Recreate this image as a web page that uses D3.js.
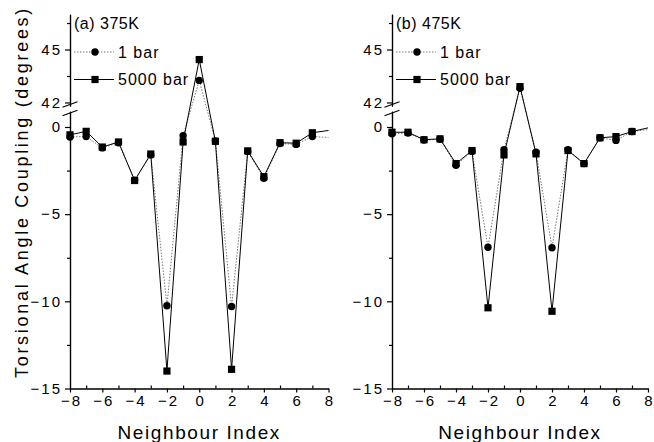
<!DOCTYPE html>
<meta charset="utf-8">
<head>
<script src="https://d3js.org/d3.v7.min.js"></script>
<style>
  body { margin: 0; background: #fff; }
  text { font-family: "Liberation Sans", Arial, sans-serif; fill: #000; }
  .axis path, .axis line { stroke: #000; stroke-width: 1.2px; }
  .axis text { font-size: 15px; letter-spacing: 2px; }
</style>
</head>
<body>
<div id="chart"></div>
<script>
// data
var neighbours = [-8, -7, -6, -5, -4, -3, -2, -1, 0, 1, 2, 3, 4, 5, 6, 7, 8];
var a1bar  = [-0.57, -0.55, -1.2, -0.9, -3.05, -1.6, -10.25, -0.5, 43.25, -0.8, -10.3, -1.4, -2.94, -0.95, -1.0, -0.55, -0.6];
var a5000  = [-0.45, -0.25, -1.15, -0.86, -3.07, -1.55, -14.0, -0.86, 44.43, -0.82, -13.9, -1.37, -2.85, -0.9, -0.93, -0.33, -0.2];
var b1bar  = [-0.39, -0.35, -0.75, -0.7, -2.2, -1.4, -6.9, -1.3, 42.8, -1.45, -6.93, -1.3, -2.1, -0.62, -0.77, -0.26, -0.15];
var b5000  = [-0.3, -0.3, -0.73, -0.68, -2.1, -1.35, -10.37, -1.6, 42.9, -1.54, -10.57, -1.35, -2.1, -0.62, -0.55, -0.26, -0.05];
var xTicks = [-8, -6, -4, -2, 0, 2, 4, 6, 8];
var xMinor = [-7, -5, -3, -1, 1, 3, 5, 7];
var upTicks = [42, 45], upMinor = [43.5, 46.5];
var lowTicks = [0, -5, -10, -15], lowMinor = [-2.5, -7.5, -12.5];

var width = 654, height = 442;
var svg = d3.select("#chart").append("svg")
    .attr("width", width).attr("height", height);

var panels = [
  {label: "(a) 375K", left: 70, right: 328.5, s1: a1bar, s2: a5000},
  {label: "(b) 475K", left: 392, right: 648, s1: b1bar, s2: b5000}
];

panels.forEach(function(p, i) {
  var g = svg.append("g");
  var x = d3.scaleLinear().domain([-8, 8]).range([p.left, p.right]);
  var yUp = d3.scaleLinear().domain([41.8, 47]).range([106, 14.2]);
  var yLow = d3.scaleLinear().domain([-15, 0.9]).range([388.5, 111.3]);
  var y = function(v) { return v > 20 ? yUp(v) : yLow(v); };

  // y axis, upper segment
  g.append("g").attr("class", "axis").attr("transform", "translate(" + p.left + ",0)")
    .call(d3.axisLeft(yUp).tickValues(upTicks).tickSize(5).tickSizeOuter(0).tickPadding(3).tickFormat(d3.format("d")));
  g.append("g").attr("class", "axis").attr("transform", "translate(" + p.left + ",0)")
    .call(d3.axisLeft(yUp).tickValues(upMinor).tickSize(3).tickSizeOuter(0).tickFormat(""));
  // y axis, lower segment
  g.append("g").attr("class", "axis").attr("transform", "translate(" + p.left + ",0)")
    .call(d3.axisLeft(yLow).tickValues(lowTicks).tickSize(5).tickSizeOuter(0).tickPadding(3));
  g.append("g").attr("class", "axis").attr("transform", "translate(" + p.left + ",0)")
    .call(d3.axisLeft(yLow).tickValues(lowMinor).tickSize(3).tickSizeOuter(0).tickFormat(""));

  // break marks
  [104.5, 113].forEach(function(cy) {
    g.append("line")
      .attr("x1", p.left - 7.5).attr("y1", cy + 2.8)
      .attr("x2", p.left + 7.5).attr("y2", cy - 2.8)
      .attr("stroke", "#000").attr("stroke-width", 1.2);
  });

  // x axis
  g.append("g").attr("class", "axis").attr("transform", "translate(0,388.5)")
    .call(d3.axisBottom(x).tickValues(xTicks).tickSize(4).tickSizeOuter(0).tickPadding(3))
    .selectAll("text").attr("dx", "1px");
  g.append("g").attr("class", "axis").attr("transform", "translate(0,388.5)")
    .call(d3.axisBottom(x).tickValues(xMinor).tickSize(-3).tickSizeOuter(0).tickFormat(""));
  g.selectAll(".axis .domain").attr("stroke-width", 1.4);

  // series
  var line = d3.line().x(function(d, j) { return x(neighbours[j]); }).y(function(d) { return y(d); });
  g.append("path").datum(p.s1).attr("d", line)
    .attr("fill", "none").attr("stroke", "#777").attr("stroke-width", 1)
    .attr("stroke-dasharray", "1.5,1.5");
  g.append("path").datum(p.s2).attr("d", line)
    .attr("fill", "none").attr("stroke", "#000").attr("stroke-width", 1);

  var idx = neighbours.map(function(d, j) { return j; }).filter(function(j) { return neighbours[j] < 8; });
  g.selectAll(".c").data(idx).enter().append("circle")
    .attr("cx", function(j) { return x(neighbours[j]); })
    .attr("cy", function(j) { return y(p.s1[j]); })
    .attr("r", 3.7).attr("fill", "#000");
  g.selectAll(".s").data(idx).enter().append("rect")
    .attr("x", function(j) { return x(neighbours[j]) - 3.6; })
    .attr("y", function(j) { return y(p.s2[j]) - 3.6; })
    .attr("width", 7.2).attr("height", 7.2).attr("fill", "#000");

  // labels and legend
  var lx = p.left + 4;
  g.append("text").attr("x", lx).attr("y", 29).style("font-size", "16px")
    .style("letter-spacing", "0.5px").text(p.label);
  var leg = [{name: "1 bar", y: 52, dash: "1.5,1.5", col: "#777", sym: "c"},
             {name: "5000 bar", y: 79.5, dash: null, col: "#000", sym: "s"}];
  leg.forEach(function(l) {
    g.append("line").attr("x1", lx).attr("x2", lx + 40).attr("y1", l.y).attr("y2", l.y)
      .attr("stroke", l.col).attr("stroke-width", 1).attr("stroke-dasharray", l.dash);
    if (l.sym === "c") {
      g.append("circle").attr("cx", lx + 21).attr("cy", l.y).attr("r", 3.7).attr("fill", "#000");
    } else {
      g.append("rect").attr("x", lx + 17.4).attr("y", l.y - 3.6).attr("width", 7.2).attr("height", 7.2).attr("fill", "#000");
    }
    g.append("text").attr("x", lx + 44).attr("y", l.y + 5.5).style("font-size", "16px")
      .style("letter-spacing", "1px").text(l.name);
  });

  g.append("text").attr("x", (p.left + p.right) / 2).attr("y", 439)
    .attr("text-anchor", "middle").style("font-size", "19px").style("letter-spacing", "1.6px")
    .text("Neighbour Index");
});

svg.append("text")
  .attr("transform", "translate(28,192) rotate(-90)")
  .attr("text-anchor", "middle").style("font-size", "18px").style("letter-spacing", "2.7px")
  .text("Torsional Angle Coupling (degrees)");
</script>
</body>
</html>
